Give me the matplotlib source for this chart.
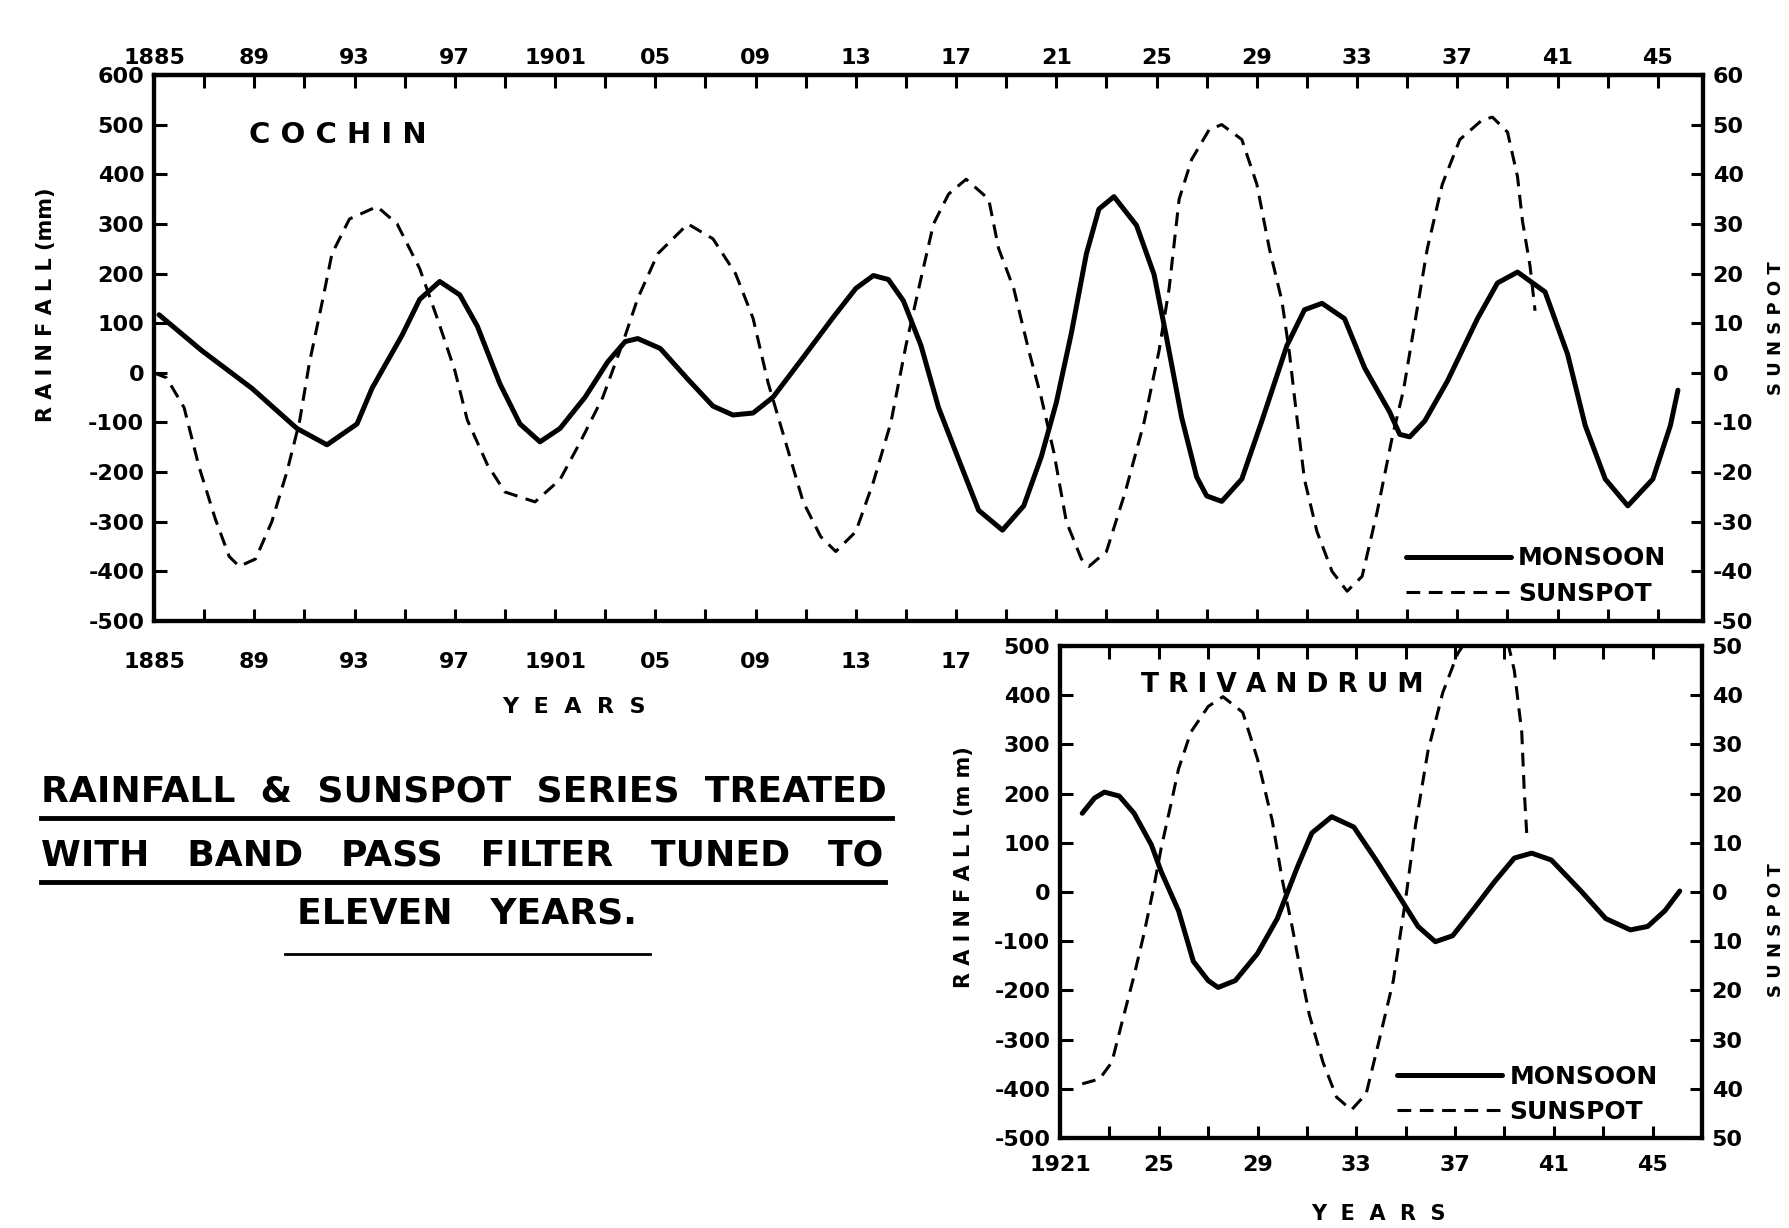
import matplotlib
matplotlib.use('Agg')
import matplotlib.pyplot as plt
from matplotlib.lines import Line2D

plt.rcParams['font.family'] = ['DejaVu Sans']
plt.rcParams['font.weight'] = 'bold'
plt.rcParams['axes.unicode_minus'] = False

# ---------------- DATA ----------------
# Cochin: monsoon rainfall (mm, left axis)
coch_mon_years = [1885.2, 1886.9, 1888.9, 1890.7, 1891.9, 1893.1, 1893.7, 1894.9, 1895.6,
                  1896.4, 1897.2, 1897.9, 1898.8, 1899.6, 1900.4, 1901.2, 1902.2, 1903.1,
                  1903.8, 1904.3, 1905.2, 1906.3, 1907.3, 1908.1, 1908.9, 1909.7, 1910.9,
                  1912.1, 1913.0, 1913.7, 1914.3, 1914.9, 1915.6, 1916.3, 1917.06, 1917.9,
                  1918.85, 1919.7, 1920.4, 1921.0, 1921.6, 1922.2, 1922.7, 1923.3, 1924.2,
                  1924.9, 1925.4, 1926.0, 1926.6, 1927.0, 1927.6, 1928.4, 1929.2, 1930.2,
                  1930.9, 1931.6, 1932.5, 1933.3, 1934.3, 1934.7, 1935.1, 1935.7, 1936.6,
                  1937.8, 1938.6, 1939.4, 1940.5, 1941.4, 1942.1, 1942.9, 1943.8, 1944.8,
                  1945.5, 1945.8]
coch_monsoon = [117, 45, -31, -112, -145, -103, -31, 76, 148,
                184, 157, 94, -22, -103, -139, -112, -49, 22,
                63, 69, 49, -13, -67, -85, -81, -49, 31,
                112, 170, 196, 188, 145, 55, -70, -169, -277,
                -317, -268, -169, -60, 80, 240, 330, 355, 297,
                198, 70, -90, -210, -248, -259, -214, -97, 55,
                127, 140, 109, 10, -79, -124, -129, -97, -17,
                109, 181, 203, 163, 37, -106, -214, -268, -214,
                -106, -35]

# Cochin: sunspot (right axis)
coch_ss_years = [1885.0, 1885.5, 1886.2, 1886.8, 1887.45, 1888.0, 1888.4, 1889.05, 1889.7,
                 1890.3, 1890.8, 1891.2, 1891.7, 1892.1, 1892.8, 1893.9, 1894.7, 1895.6,
                 1896.3, 1897.0, 1897.5, 1898.3, 1899.0, 1900.2, 1901.2, 1902.0, 1902.9,
                 1903.7, 1904.3, 1905.1, 1906.3, 1907.3, 1908.2, 1908.9, 1909.5, 1910.2,
                 1910.9, 1911.6, 1912.2, 1913.0, 1913.7, 1914.4, 1915.0, 1915.6, 1916.1,
                 1916.7, 1917.4, 1918.3, 1918.7, 1919.3, 1919.9, 1920.4, 1920.9, 1921.4,
                 1922.0, 1922.3, 1923.0, 1923.75, 1924.5, 1925.1, 1925.5, 1925.9, 1926.4,
                 1927.1, 1927.6, 1928.4, 1929.0, 1929.5, 1930.0, 1930.3, 1930.55, 1930.9,
                 1931.4, 1932.0, 1932.6, 1933.2, 1933.8, 1934.4, 1934.85, 1935.3, 1935.8,
                 1936.4, 1937.1, 1938.0, 1938.4, 1939.0, 1939.4, 1939.6, 1939.9, 1940.1]
coch_sunspot = [0, -1, -7, -19, -29.5, -37, -39, -37.5, -30,
                -20, -10, 2, 14, 24, 31, 33.5, 30, 21,
                11, 0.5, -9.5, -18.5, -24, -26, -21.5, -14, -5,
                6, 15, 24, 30, 27, 20, 11, -2, -14,
                -26, -33, -36, -32, -22, -10, 5.5, 19, 30,
                36, 39, 35, 25, 17, 4.5, -5, -16, -30,
                -37.5, -39, -36, -24, -10, 4.5, 17, 35, 43,
                49, 50, 47, 38, 25, 14.5, 4, -7, -21.5,
                -32, -40, -44, -41, -28, -13, -3.5, 10, 25,
                38, 47, 51, 51.5, 48.5, 39.5, 30.5, 21.5, 12.5]

# Trivandrum: monsoon rainfall (mm)
triv_mon_years = [1921.9, 1922.4, 1922.8, 1923.4, 1924.0, 1924.7, 1925.1, 1925.8, 1926.4,
                  1927.0, 1927.4, 1928.1, 1929.0, 1929.8, 1930.6, 1931.2, 1932.0, 1932.9,
                  1933.8, 1934.7, 1935.5, 1936.2, 1936.9, 1937.7, 1938.6, 1939.4, 1940.1,
                  1940.9, 1942.1, 1943.1, 1944.1, 1944.8, 1945.5, 1946.1]
triv_monsoon = [160, 191, 203, 195, 160, 96, 41, -38, -141,
                -180, -194, -180, -125, -54, 49, 120, 153, 132,
                65, -6, -70, -101, -89, -38, 21, 69, 79,
                65, 2, -54, -77, -70, -38, 2]

# Trivandrum: sunspot
triv_ss_years = [1921.9, 1922.6, 1923.1, 1923.5, 1924.0, 1924.4, 1924.8, 1925.1, 1925.5,
                 1925.8, 1926.3, 1927.0, 1927.6, 1928.4, 1929.0, 1929.6, 1930.0, 1930.4,
                 1930.7, 1931.1, 1931.65, 1932.2, 1932.8, 1933.4, 1933.9, 1934.5, 1935.0,
                 1935.4, 1935.9, 1936.5, 1937.1, 1937.5, 1938.2, 1939.1, 1939.4, 1939.7,
                 1939.8, 1939.9]
triv_sunspot = [-39, -38, -34.6, -26.7, -17, -8.5, 1, 9, 18,
                25, 32.5, 37.7, 39.7, 36.5, 27, 14.4, 2.5, -7,
                -15, -25, -34.6, -41.7, -44.3, -41, -30.7, -18, -1.4,
                13.6, 28.6, 40.5, 48.4, 51.5, 53, 51.5, 45, 32.5,
                20.7, 12]

# Tick labels
coch_top_ticks = list(range(1885, 1946, 4))
coch_top_labels = ['1885', '89', '93', '97', '1901', '05', '09', '13', '17',
                   '21', '25', '29', '33', '37', '41', '45']
coch_bottom_labels = ['1885', '89', '93', '97', '1901', '05', '09', '13', '17',
                      '', '', '', '', '', '', '']
coch_left_ticks = list(range(-500, 601, 100))
coch_right_ticks = list(range(-50, 61, 10))
triv_x_ticks = list(range(1921, 1946, 4))
triv_x_labels = ['1921', '25', '29', '33', '37', '41', '45']
triv_left_ticks = list(range(-500, 501, 100))
triv_right_ticks = list(range(-50, 51, 10))
triv_right_labels = ['50', '40', '30', '20', '10', '0', '10', '20', '30', '40', '50']

# ---------------- FIGURE ----------------
W, H = 1789, 1228
fig = plt.figure(figsize=(W / 100, H / 100), dpi=100)

def fx(px):
    return px / W

def fy(py):
    return 1 - py / H

SOLID_LW = 3.6
DASH_LW = 2.2
DASHES = (4.5, 2.8)
TICK_KW = dict(direction='in', length=9, width=2.2, labelsize=16)

def style_spines(a):
    for s in a.spines.values():
        s.set_linewidth(3)

# ---- Cochin ----
ax = fig.add_axes([fx(154), fy(621), fx(1703) - fx(154), fy(75) - fy(621)])
l1, = ax.plot(coch_mon_years, coch_monsoon, color='black', lw=SOLID_LW,
              solid_capstyle='round', solid_joinstyle='round', label='MONSOON')
ax.set_xlim(1885, 1946.8)
ax.set_ylim(-500, 600)
ax.set_xticks(coch_top_ticks)
ax.set_xticklabels(coch_bottom_labels)
ax.set_xticks(list(range(1887, 1947, 4)), minor=True)
ax.set_yticks(coch_left_ticks)
ax.set_yticklabels([str(v) for v in coch_left_ticks])
ax.tick_params(axis='x', which='both', top=False, pad=22, **TICK_KW)
ax.tick_params(axis='y', pad=7, **TICK_KW)
style_spines(ax)

sec = ax.secondary_xaxis('top')
sec.set_xticks(coch_top_ticks)
sec.set_xticklabels(coch_top_labels)
sec.set_xticks(list(range(1887, 1947, 4)), minor=True)
sec.tick_params(axis='x', which='both', pad=5, **TICK_KW)
sec.spines['top'].set_linewidth(3)

ax2 = ax.twinx()
l2, = ax2.plot(coch_ss_years, coch_sunspot, color='black', lw=DASH_LW,
               dashes=DASHES, label='SUNSPOT')
ax2.set_ylim(-50, 60)
ax2.set_yticks(coch_right_ticks)
ax2.set_yticklabels([str(v) for v in coch_right_ticks])
ax2.tick_params(axis='y', pad=7, **TICK_KW)
style_spines(ax2)

ax2.legend([l1, l2], ['MONSOON', 'SUNSPOT'], loc='lower left',
           bbox_to_anchor=(0.808, 0.028), frameon=False, fontsize=18,
           handlelength=4.2, handletextpad=0.3, labelspacing=0.45,
           borderpad=0, borderaxespad=0)

fig.text(fx(249), fy(135), 'C O C H I N', fontsize=21, ha='left', va='center')
fig.text(fx(574), fy(707), 'Y  E  A  R  S', fontsize=16, ha='center', va='center')
fig.text(fx(46), fy(305), 'R A I N F A L L (mm)', fontsize=15, rotation=90,
         ha='center', va='center')
fig.text(fx(1776), fy(328), 'S U N S P O T', fontsize=13, rotation=90,
         ha='center', va='center')

# ---- Trivandrum ----
bx = fig.add_axes([fx(1060), fy(1138), fx(1702) - fx(1060), fy(646) - fy(1138)])
m1, = bx.plot(triv_mon_years, triv_monsoon, color='black', lw=SOLID_LW,
              solid_capstyle='round', solid_joinstyle='round', label='MONSOON')
bx.set_xlim(1921, 1947)
bx.set_ylim(-500, 500)
bx.set_xticks(triv_x_ticks)
bx.set_xticklabels(triv_x_labels)
bx.set_xticks(list(range(1923, 1947, 4)), minor=True)
bx.set_yticks(triv_left_ticks)
bx.set_yticklabels([str(v) for v in triv_left_ticks])
bx.tick_params(axis='x', which='both', top=True, pad=12, **TICK_KW)
bx.tick_params(axis='y', pad=7, **TICK_KW)
style_spines(bx)

bx2 = bx.twinx()
m2, = bx2.plot(triv_ss_years, triv_sunspot, color='black', lw=DASH_LW,
               dashes=DASHES, label='SUNSPOT')
bx2.set_ylim(-50, 50)
bx2.set_yticks(triv_right_ticks)
bx2.set_yticklabels(triv_right_labels)
bx2.tick_params(axis='y', pad=7, **TICK_KW)
style_spines(bx2)

bx2.legend([m1, m2], ['MONSOON', 'SUNSPOT'], loc='lower left',
           bbox_to_anchor=(0.525, 0.028), frameon=False, fontsize=18,
           handlelength=4.2, handletextpad=0.3, labelspacing=0.45,
           borderpad=0, borderaxespad=0)

fig.text(fx(1141), fy(685), 'T R I V A N D R U M', fontsize=19, ha='left', va='center')
fig.text(fx(1378), fy(1214), 'Y  E  A  R  S', fontsize=15, ha='center', va='center')
fig.text(fx(964), fy(867), 'R A I N F A L L (m m)', fontsize=15, rotation=90,
         ha='center', va='center')
fig.text(fx(1776), fy(930), 'S U N S P O T', fontsize=13, rotation=90,
         ha='center', va='center')

# ---- Caption block ----
cap_fs = 26
fig.text(fx(41), fy(792), 'RAINFALL  &  SUNSPOT  SERIES  TREATED', fontsize=cap_fs,
         ha='left', va='center')
fig.add_artist(Line2D([fx(41), fx(892)], [fy(818), fy(818)], color='black', lw=3.5,
                      transform=fig.transFigure))
fig.text(fx(41), fy(855), 'WITH   BAND   PASS   FILTER   TUNED   TO', fontsize=cap_fs,
         ha='left', va='center')
fig.add_artist(Line2D([fx(41), fx(885)], [fy(882), fy(882)], color='black', lw=3.5,
                      transform=fig.transFigure))
fig.text(fx(467), fy(913), 'ELEVEN   YEARS.', fontsize=cap_fs, ha='center', va='center')
fig.add_artist(Line2D([fx(285), fx(650)], [fy(954), fy(954)], color='black', lw=2,
                      transform=fig.transFigure))

fig.savefig('out.png', dpi=100)
